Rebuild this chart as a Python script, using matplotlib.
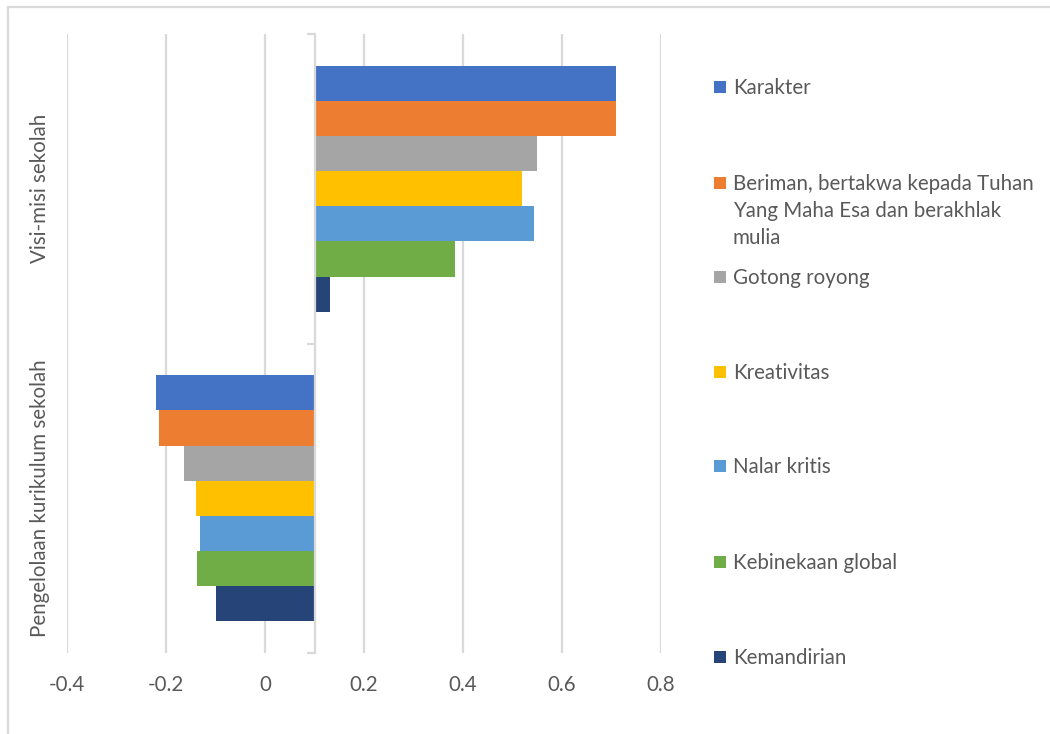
import matplotlib
matplotlib.use("Agg")
import matplotlib.pyplot as plt
from matplotlib.patches import Rectangle
from matplotlib.lines import Line2D
import matplotlib.transforms as mtransforms
import numpy as np

plt.rcParams['font.family'] = ['Lato', 'DejaVu Sans']

categories = ["Visi-misi sekolah", "Pengelolaan kurikulum sekolah"]
series_names = [
    "Karakter",
    "Beriman, bertakwa kepada Tuhan\nYang Maha Esa dan berakhlak\nmulia",
    "Gotong royong",
    "Kreativitas",
    "Nalar kritis",
    "Kebinekaan global",
    "Kemandirian",
]
visi_misi = [0.709, 0.709, 0.549, 0.520, 0.544, 0.384, 0.131]
kurikulum = [-0.220, -0.214, -0.164, -0.140, -0.131, -0.138, -0.100]
colors = ["#4472C4", "#ED7D31", "#A5A5A5", "#FFC000", "#5B9BD5", "#70AD47", "#264478"]
x_ticks = [-0.4, -0.2, 0, 0.2, 0.4, 0.6, 0.8]
x_tick_labels = ["-0.4", "-0.2", "0", "0.2", "0.4", "0.6", "0.8"]
axis_cross = 0.1

W, H = 1050, 734
fig = plt.figure(figsize=(W / 100, H / 100), dpi=100)

def fx(px):
    return px / W

def fy(py):
    return 1 - py / H

ax_left, ax_right, ax_top, ax_bottom = 67, 661, 34, 653
ax = fig.add_axes([fx(ax_left), fy(ax_bottom), fx(ax_right - ax_left), (ax_bottom - ax_top) / H])

text_color = "#595959"
grid_color = "#D9D9D9"
fs = 14.8
fs_px = fs * 100 / 72

values = np.array([visi_misi, kurikulum])  # shape (cat, series)
n = len(series_names)
bar_h = 0.795 / n
ypos = np.arange(len(categories))
for i in range(n):
    offs = (i - (n - 1) / 2) * bar_h
    ax.barh(ypos + offs, values[:, i] - axis_cross, left=axis_cross, height=bar_h,
            color=colors[i], linewidth=0, zorder=3)

ax.set_xlim(-0.4, 0.8)
ax.set_ylim(len(categories) - 0.5, -0.5)
ax.set_xticks(x_ticks)
ax.set_xticklabels(x_tick_labels)
ax.xaxis.grid(True, color=grid_color, linewidth=1.6, zorder=0)
ax.set_axisbelow(True)
ax.tick_params(axis='x', length=0, pad=16, labelsize=fs, labelcolor=text_color)

for s in ['top', 'right', 'bottom']:
    ax.spines[s].set_visible(False)
ax.spines['left'].set_position(('data', axis_cross))
ax.spines['left'].set_color(grid_color)
ax.spines['left'].set_linewidth(1.6)
ax.spines['left'].set_zorder(4)
ax.set_yticks(np.arange(len(categories) + 1) - 0.5)
ax.set_yticklabels([])
ax.tick_params(axis='y', length=6, width=1.6, color=grid_color, direction='out')

trans = mtransforms.blended_transform_factory(ax.transAxes, ax.transData)
for j, c in enumerate(categories):
    ax.text((40 - ax_left) / (ax_right - ax_left), ypos[j], c, rotation=90,
            ha='center', va='center', fontsize=fs, color=text_color, transform=trans)

# legend (manual, Excel-like spacing)
leg_y = [87, 183, 277, 372, 466, 562, 657]
for i, name in enumerate(series_names):
    yc = leg_y[i]
    fig.patches.append(Rectangle((fx(714), fy(yc + 6)), fx(12), 12 / H,
                                 transform=fig.transFigure, facecolor=colors[i],
                                 edgecolor='none'))
    fig.text(fx(733), fy(yc - 0.46 * fs_px), name, ha='left', va='top',
             fontsize=fs, color=text_color, linespacing=1.46)

# chart border (light gray), clipped at right and bottom
fig.add_artist(Line2D([fx(8), 1], [fy(6.5), fy(6.5)], transform=fig.transFigure,
                      color=grid_color, linewidth=1.6))
fig.add_artist(Line2D([fx(8), fx(8)], [fy(6.5), 0], transform=fig.transFigure,
                      color=grid_color, linewidth=1.6))

fig.savefig("out.png", dpi=100, facecolor="white")
